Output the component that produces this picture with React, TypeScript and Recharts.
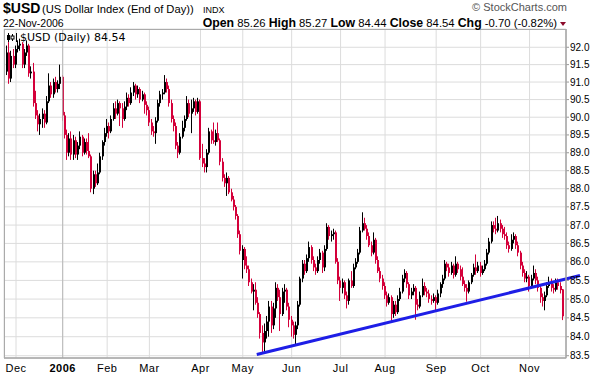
import React from 'react';
import { ComposedChart, Bar, XAxis, YAxis, CartesianGrid, ReferenceLine } from 'recharts';

// ---- data, one entry per trading day, 25-Nov-2005 .. 22-Nov-2006 ----
const opens = [
  91.30, 91.85, 91.10, 91.75, 91.50, 91.95, 92.05, 92.10, 91.50, 91.85,
  92.05, 91.25, 91.30, 90.40, 90.05, 89.80, 89.95, 90.10, 89.85, 90.45,
  90.90, 90.65, 91.00, 90.80, 90.95, 91.15, 90.05, 89.50, 89.00, 89.40,
  88.95, 89.35, 88.95, 89.20, 89.45, 89.00, 89.30, 89.05, 88.90, 88.00,
  88.40, 88.15, 88.45, 88.90, 89.30, 89.55, 89.75, 89.60, 89.95, 90.25,
  90.10, 90.40, 90.25, 89.95, 90.30, 90.55, 90.40, 90.70, 90.90, 90.65,
  90.80, 90.50, 90.65, 90.35, 90.20, 89.85, 89.60, 89.55, 89.90, 90.40,
  90.65, 90.70, 91.00, 90.80, 90.40, 89.95, 89.75, 89.20, 89.00, 89.45,
  89.70, 89.95, 90.40, 90.10, 90.25, 90.45, 90.15, 90.45, 88.85, 88.70,
  88.60, 89.00, 89.60, 89.35, 89.30, 89.55, 89.35, 88.75, 88.30, 88.15,
  88.30, 87.90, 87.70, 87.50, 87.25, 86.75, 86.05, 86.35, 85.90, 85.80,
  85.45, 85.20, 85.25, 84.90, 84.60, 84.10, 83.85, 84.15, 84.40, 84.80,
  84.30, 84.75, 85.30, 85.05, 84.60, 85.20, 85.25, 84.80, 84.45, 84.30,
  84.05, 84.30, 84.85, 85.55, 85.95, 85.75, 86.10, 86.40, 86.05, 85.85,
  85.75, 86.05, 86.25, 85.85, 86.35, 86.95, 86.70, 86.75, 86.80, 86.00,
  85.50, 85.30, 85.45, 85.10, 84.95, 85.50, 85.35, 85.85, 86.00, 86.25,
  86.85, 87.05, 86.90, 86.70, 86.45, 86.25, 86.60, 86.05, 85.75, 85.55,
  85.35, 85.10, 84.90, 85.05, 84.60, 84.85, 84.65, 85.00, 85.20, 85.55,
  85.70, 85.40, 85.10, 85.20, 85.30, 84.85, 84.80, 85.10, 85.35, 85.20,
  85.15, 85.00, 84.95, 85.05, 84.90, 85.15, 85.40, 85.55, 85.95, 85.85,
  85.70, 85.90, 85.65, 85.95, 85.80, 85.60, 85.40, 85.30, 85.20, 85.45,
  85.65, 85.85, 85.75, 85.90, 85.70, 85.80, 85.95, 86.25, 86.55, 87.00,
  86.90, 86.85, 87.05, 86.90, 86.75, 86.70, 86.45, 86.35, 86.60, 86.70,
  86.45, 86.25, 85.90, 85.70, 85.55, 85.60, 85.35, 85.55, 85.70, 85.50,
  85.30, 85.05, 84.95, 85.10, 85.35, 85.45, 85.30, 85.25, 85.45, 85.35,
  85.26,
];
const highs = [
  92.05, 92.15, 91.90, 91.95, 92.05, 92.20, 92.25, 92.15, 91.95, 92.20,
  92.10, 91.45, 91.55, 90.75, 90.20, 90.10, 90.25, 90.20, 90.60, 91.25,
  91.00, 91.10, 91.15, 91.05, 91.50, 91.20, 90.15, 89.65, 89.55, 89.60,
  89.50, 89.45, 89.30, 89.60, 89.50, 89.40, 89.40, 89.55, 88.95, 88.50,
  88.50, 88.70, 89.00, 89.35, 89.70, 89.95, 89.85, 90.05, 90.40, 90.45,
  90.50, 90.45, 90.40, 90.45, 90.70, 90.65, 90.85, 91.00, 90.95, 90.90,
  90.85, 90.75, 90.70, 90.45, 90.30, 89.95, 89.75, 90.00, 90.50, 90.75,
  90.80, 91.20, 91.10, 90.90, 90.50, 90.05, 89.85, 89.30, 89.55, 89.90,
  90.05, 90.60, 90.50, 90.50, 90.55, 90.50, 90.55, 90.50, 89.25, 88.85,
  89.10, 89.70, 89.65, 89.85, 89.65, 89.85, 89.40, 88.85, 88.40, 88.45,
  88.35, 88.00, 87.80, 87.55, 87.30, 86.85, 86.45, 86.40, 86.15, 85.90,
  85.55, 85.40, 85.45, 85.05, 84.65, 84.30, 84.35, 84.55, 84.95, 84.95,
  84.90, 85.45, 85.40, 85.25, 85.30, 85.40, 85.30, 84.90, 84.55, 84.40,
  84.40, 84.95, 85.60, 86.05, 86.05, 86.20, 86.55, 86.45, 86.15, 85.95,
  86.15, 86.35, 86.30, 86.45, 87.05, 87.00, 86.85, 86.90, 86.85, 86.10,
  85.60, 85.55, 85.50, 85.20, 85.55, 85.75, 85.95, 86.10, 86.35, 86.95,
  87.35, 87.20, 87.00, 86.80, 86.55, 86.80, 86.65, 86.15, 85.85, 85.65,
  85.45, 85.20, 85.15, 85.10, 84.95, 84.95, 85.10, 85.30, 85.65, 85.80,
  85.75, 85.45, 85.30, 85.40, 85.35, 85.00, 85.20, 85.55, 85.45, 85.30,
  85.25, 85.10, 85.15, 85.10, 85.25, 85.45, 85.65, 86.05, 86.00, 85.95,
  86.00, 85.95, 86.15, 86.00, 85.90, 85.85, 85.50, 85.40, 85.50, 85.70,
  85.95, 86.20, 86.00, 86.00, 85.90, 86.05, 86.35, 86.65, 87.10, 87.10,
  87.20, 87.25, 87.15, 87.00, 86.95, 86.80, 86.55, 86.75, 86.80, 86.75,
  86.55, 86.30, 86.00, 85.80, 85.75, 85.65, 85.65, 85.90, 85.80, 85.60,
  85.40, 85.15, 85.20, 85.45, 85.60, 85.55, 85.40, 85.55, 85.55, 85.45,
  85.27,
];
const lows = [
  91.20, 90.95, 91.00, 91.40, 91.40, 91.85, 91.90, 91.40, 91.40, 91.75,
  91.15, 91.10, 90.30, 89.95, 89.60, 89.50, 89.70, 89.70, 89.80, 90.40,
  90.55, 90.55, 90.70, 90.70, 90.80, 89.90, 89.40, 88.80, 88.90, 88.80,
  88.80, 88.85, 88.80, 89.10, 88.90, 88.95, 88.95, 88.85, 87.90, 87.85,
  88.05, 88.10, 88.40, 88.80, 89.20, 89.45, 89.40, 89.55, 89.90, 89.95,
  90.05, 89.75, 89.70, 89.90, 90.20, 90.30, 90.35, 90.60, 90.50, 90.55,
  90.40, 90.45, 90.10, 90.05, 89.75, 89.50, 89.45, 89.25, 89.85, 90.30,
  90.50, 90.65, 90.70, 90.30, 89.85, 89.60, 89.10, 88.85, 88.95, 89.40,
  89.60, 89.90, 90.00, 89.55, 90.15, 90.05, 90.10, 88.80, 88.60, 88.45,
  88.45, 88.95, 89.25, 89.25, 89.20, 89.30, 88.65, 88.20, 88.05, 87.80,
  87.85, 87.65, 87.40, 87.15, 86.65, 86.20, 85.55, 85.80, 85.70, 85.35,
  85.15, 84.70, 84.85, 84.50, 83.95, 83.60, 83.55, 83.95, 84.00, 84.10,
  84.20, 84.50, 84.95, 84.15, 84.55, 84.90, 84.70, 84.25, 84.00, 83.95,
  83.78, 84.20, 84.80, 85.45, 85.65, 85.70, 86.00, 85.95, 85.75, 85.65,
  85.70, 85.95, 85.70, 85.75, 86.30, 86.60, 86.55, 86.60, 85.95, 85.40,
  84.95, 85.15, 85.00, 84.75, 84.85, 85.30, 85.30, 85.80, 85.95, 86.20,
  86.80, 86.85, 86.60, 86.40, 86.15, 86.20, 85.95, 85.70, 85.45, 85.25,
  85.00, 84.80, 84.85, 84.42, 84.50, 84.55, 84.60, 84.95, 85.15, 85.45,
  85.30, 85.00, 85.00, 85.10, 84.45, 84.70, 84.75, 85.05, 85.10, 85.05,
  84.90, 84.85, 84.90, 84.70, 84.85, 85.05, 85.30, 85.50, 85.75, 85.60,
  85.65, 85.55, 85.60, 85.70, 85.50, 85.35, 85.20, 84.93, 85.15, 85.40,
  85.60, 85.65, 85.70, 85.60, 85.65, 85.75, 85.90, 86.20, 86.50, 86.80,
  86.75, 86.80, 86.80, 86.65, 86.60, 86.35, 86.25, 86.30, 86.50, 86.35,
  86.15, 85.80, 85.60, 85.45, 85.45, 85.20, 85.30, 85.50, 85.40, 85.20,
  84.90, 84.80, 84.70, 85.05, 85.30, 85.20, 85.15, 85.20, 85.25, 85.15,
  84.44,
];
const closes = [
  91.85, 91.10, 91.75, 91.50, 91.95, 92.05, 92.10, 91.50, 91.85, 92.05,
  91.25, 91.30, 90.40, 90.05, 89.80, 89.95, 90.10, 89.85, 90.45, 90.90,
  90.65, 91.00, 90.80, 90.95, 91.15, 90.05, 89.50, 89.00, 89.40, 88.95,
  89.35, 88.95, 89.20, 89.45, 89.00, 89.30, 89.05, 88.90, 88.00, 88.40,
  88.15, 88.45, 88.90, 89.30, 89.55, 89.75, 89.60, 89.95, 90.25, 90.10,
  90.40, 90.25, 89.95, 90.30, 90.55, 90.40, 90.70, 90.90, 90.65, 90.80,
  90.50, 90.65, 90.35, 90.20, 89.85, 89.60, 89.55, 89.90, 90.40, 90.65,
  90.70, 91.00, 90.80, 90.40, 89.95, 89.75, 89.20, 89.00, 89.45, 89.70,
  89.95, 90.40, 90.10, 90.25, 90.45, 90.15, 90.45, 88.85, 88.70, 88.60,
  89.00, 89.60, 89.35, 89.30, 89.55, 89.35, 88.75, 88.30, 88.15, 88.30,
  87.90, 87.70, 87.50, 87.25, 86.75, 86.30, 86.35, 85.90, 85.80, 85.45,
  85.20, 85.25, 84.90, 84.60, 84.10, 83.85, 84.15, 84.40, 84.80, 84.30,
  84.75, 85.30, 85.05, 84.60, 85.20, 85.25, 84.80, 84.45, 84.30, 84.05,
  84.30, 84.85, 85.55, 85.95, 85.75, 86.10, 86.40, 86.05, 85.85, 85.75,
  86.05, 86.25, 85.85, 86.35, 86.95, 86.70, 86.75, 86.80, 86.00, 85.50,
  85.30, 85.45, 85.10, 84.95, 85.50, 85.35, 85.85, 86.00, 86.25, 86.85,
  87.05, 86.90, 86.70, 86.45, 86.25, 86.60, 86.05, 85.75, 85.55, 85.35,
  85.10, 84.90, 85.05, 84.60, 84.85, 84.65, 85.00, 85.20, 85.55, 85.70,
  85.40, 85.10, 85.20, 85.30, 84.85, 84.80, 85.10, 85.35, 85.20, 85.15,
  85.00, 84.95, 85.05, 84.90, 85.15, 85.40, 85.55, 85.95, 85.85, 85.70,
  85.90, 85.65, 85.95, 85.80, 85.60, 85.40, 85.30, 85.20, 85.45, 85.65,
  85.85, 85.75, 85.90, 85.70, 85.80, 85.95, 86.25, 86.55, 87.00, 86.90,
  86.85, 87.05, 86.90, 86.75, 86.70, 86.45, 86.35, 86.60, 86.70, 86.45,
  86.25, 85.90, 85.70, 85.55, 85.60, 85.35, 85.55, 85.70, 85.50, 85.30,
  85.05, 84.95, 85.10, 85.35, 85.45, 85.30, 85.25, 85.45, 85.35, 85.24,
  84.54,
];

// index of first trading day of each month and its label
const monthTickIdx = [4, 25, 45, 64, 87, 106, 128, 150, 170, 193, 213, 235];
const monthLabels = ['Dec', '2006', 'Feb', 'Mar', 'Apr', 'May', 'Jun', 'Jul', 'Aug', 'Sep', 'Oct', 'Nov'];
const yearIdx = 25;
const yTicks = [83.5, 84.0, 84.5, 85.0, 85.5, 86.0, 86.5, 87.0, 87.5, 88.0, 88.5, 89.0, 89.5, 90.0, 90.5, 91.0, 91.5, 92.0];
// hand-drawn trend line (bar index, price)
const trendStart = { x: 112.3, y: 83.53 };
const trendEnd = { x: 257.7, y: 85.63 };

const RED = '#d4003a';
const FONT = '"Liberation Sans", Arial, sans-serif';

const data = closes.map((c, i) => ({
  i,
  o: opens[i],
  h: highs[i],
  l: lows[i],
  c,
  prev: i > 0 ? closes[i - 1] : opens[0],
  range: [lows[i], highs[i]],
}));

const Candle = (props: any) => {
  const { x, y, width, height, payload } = props;
  if (!payload || x == null || y == null) return null;
  const { o, h, l, c, prev } = payload;
  const yTop = Math.min(y, y + height);
  const hh = Math.abs(height);
  const lh = Math.log(h);
  const ll = Math.log(l);
  const toY = (v: number) => (lh === ll ? yTop : yTop + (hh * (lh - Math.log(v))) / (lh - ll));
  const px = Math.round(x + width / 2);
  const color = c < prev ? RED : '#000';
  const yo = toY(o);
  const yc = toY(c);
  const top = Math.min(yo, yc);
  const bh = Math.max(1, Math.abs(yo - yc));
  return (
    <g>
      <line x1={px - 0.5} x2={px - 0.5} y1={yTop} y2={yTop + hh} stroke={color} strokeWidth={1} />
      <rect x={px - 1} y={top} width={2} height={bh} fill={color} />
    </g>
  );
};

const XTick = (props: any) => {
  const { x, payload } = props;
  const k = monthTickIdx.indexOf(payload.value);
  if (k < 0) return null;
  const label = monthLabels[k];
  return (
    <text x={x} y={372} textAnchor="middle" fontSize={11} fontFamily={FONT} letterSpacing={0.5}
      fontWeight={label === '2006' ? 'bold' : 'normal'} fill="#000">{label}</text>
  );
};

export default function App() {
  return (
    <div style={{ position: 'absolute', left: 0, top: 0, width: 599, height: 376, background: '#fff' }}>
      <ComposedChart width={599} height={376} data={data} margin={{ top: 29, right: 0, bottom: 0, left: 4 }}
        barCategoryGap={0} barGap={0}>
        <CartesianGrid stroke="#dcdcdc" strokeWidth={1} />
        <XAxis dataKey="i" type="category" ticks={monthTickIdx} interval={0} tickLine={false}
          axisLine={{ stroke: '#999' }} height={18} padding={{ left: 2, right: 2 }} tick={XTick} />
        <XAxis xAxisId="num" dataKey="i" type="number" domain={[-1.399, 251.4]} allowDataOverflow hide />
        <YAxis orientation="right" scale="log" domain={[83.44, 92.53]} allowDataOverflow ticks={yTicks}
          interval={0} tickFormatter={(v: number) => v.toFixed(1)} width={33} tickSize={3} tickMargin={1}
          axisLine={{ stroke: '#999' }} tickLine={{ stroke: '#999' }}
          tick={{ fontSize: 10, fill: '#000', fontFamily: FONT }} />
        <ReferenceLine x={yearIdx} stroke="#b8b8b8" strokeWidth={1} />
        <Bar dataKey="range" shape={Candle} isAnimationActive={false} />
        <ReferenceLine xAxisId="num" segment={[trendStart, trendEnd]} stroke="#1e1ee6" strokeWidth={3}
          ifOverflow="visible" />
      </ComposedChart>
      <svg width={599} height={376} style={{ position: 'absolute', left: 0, top: 0, pointerEvents: 'none' }}>
        <rect x={4.5} y={29.5} width={561.5} height={328.5} fill="none" stroke="#aaa" strokeWidth={1} />
        <text x={3} y={13} fontFamily={FONT} fontSize={14} fontWeight="bold" fill="#000">$USD</text>
        <text x={42} y={13} fontFamily={FONT} fontSize={11.2} fill="#000">(US Dollar Index (End of Day))</text>
        <text x={203} y={13} fontFamily={FONT} fontSize={9} fill="#000">INDX</text>
        <text x={567} y={11} textAnchor="end" fontFamily={FONT} fontSize={11} fill="#555">© StockCharts.com</text>
        <text x={3} y={27} fontFamily={FONT} fontSize={10.5} fill="#000">22-Nov-2006</text>
        <text x={557} y={27} textAnchor="end" fontFamily={FONT} fontSize={11.3} fill="#000">
          <tspan fontWeight="bold" fontSize={12.3}>Open</tspan> 85.26{' '}
          <tspan fontWeight="bold" fontSize={12.3}>High</tspan> 85.27{' '}
          <tspan fontWeight="bold" fontSize={12.3}>Low</tspan> 84.44{' '}
          <tspan fontWeight="bold" fontSize={12.3}>Close</tspan> 84.54{' '}
          <tspan fontWeight="bold" fontSize={12.3}>Chg</tspan> -0.70 (-0.82%)
        </text>
        <path d="M560,22 L566,22 L563,26 Z" fill="#8b0a2a" />
        <g>
          <line x1={8.5} x2={8.5} y1={33} y2={42} stroke="#000" />
          <rect x={7} y={35} width={3} height={5} fill="#000" />
          <line x1={12.5} x2={12.5} y1={34} y2={41} stroke="#000" />
          <rect x={11} y={36} width={3} height={3} fill="#fff" stroke="#000" strokeWidth={1} />
          <line x1={16.5} x2={16.5} y1={33} y2={42} stroke="#000" />
        </g>
        <text x={20} y={41} fontFamily='"DejaVu Sans", Verdana, sans-serif' fontSize={11} fill="#000">$USD (Daily) 84.54</text>
      </svg>
    </div>
  );
}
